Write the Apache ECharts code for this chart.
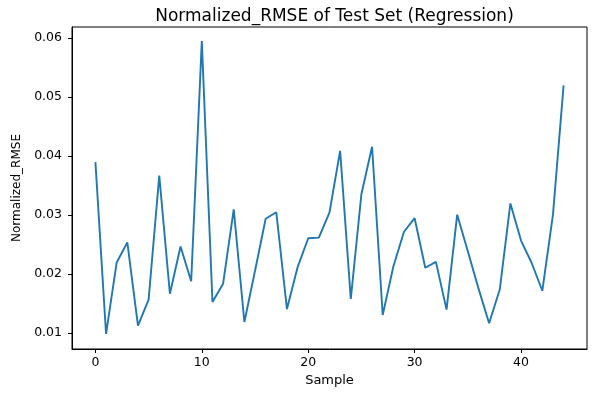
<!DOCTYPE html>
<html>
<head>
<meta charset="utf-8">
<script src="https://cdn.jsdelivr.net/npm/echarts@6/dist/echarts.min.js"></script>
<style>
html, body { margin: 0; padding: 0; background: #fff; }
#main { width: 598px; height: 393px; }
</style>
</head>
<body>
<div id="main"></div>
<script>
// sample index 0..44
var samples = [0, 1, 2, 3, 4, 5, 6, 7, 8, 9, 10, 11, 12, 13, 14, 15, 16, 17, 18, 19, 20, 21,
    22, 23, 24, 25, 26, 27, 28, 29, 30, 31, 32, 33, 34, 35, 36, 37, 38, 39, 40, 41, 42, 43, 44];
var rmse = [0.0390, 0.0099, 0.0220, 0.0254, 0.0113, 0.0157, 0.0367, 0.0167, 0.0247, 0.0188,
    0.0595, 0.0153, 0.0184, 0.0310, 0.0119, 0.0206, 0.0294, 0.0305, 0.0141, 0.0212,
    0.0261, 0.0262, 0.0305, 0.0409, 0.0158, 0.0336, 0.0416, 0.0131, 0.0213, 0.0272,
    0.0295, 0.0211, 0.0221, 0.0140, 0.0301, 0.0239, 0.0176, 0.0117, 0.0174, 0.0320,
    0.0257, 0.0219, 0.0172, 0.0301, 0.0520];
var xTicks = [0, 10, 20, 30, 40];
var yTicks = [0.01, 0.02, 0.03, 0.04, 0.05, 0.06];

var font = 'DejaVu Sans';
var myChart = echarts.init(document.getElementById('main'));
var option = {
    animation: false,
    backgroundColor: '#fff',
    title: {
        text: 'Normalized_RMSE of Test Set (Regression)',
        left: 329.5,
        textAlign: 'center',
        top: 3,
        textStyle: { fontFamily: font, fontSize: 17, fontWeight: 'normal', color: '#000' }
    },
    grid: {
        left: 72, right: 11, top: 27, bottom: 44,
        show: true, borderColor: '#000', borderWidth: 1
    },
    xAxis: {
        type: 'value',
        min: -2.2,
        max: 46.2,
        name: 'Sample',
        nameLocation: 'middle',
        nameGap: 24,
        nameTextStyle: { fontFamily: font, fontSize: 13, color: '#000' },
        axisLine: { onZero: false, lineStyle: { color: '#000', width: 1 } },
        axisTick: { show: true, length: 4, customValues: xTicks, lineStyle: { color: '#000' } },
        axisLabel: { customValues: xTicks, fontFamily: font, fontSize: 12.5, color: '#000', margin: 7 },
        splitLine: { show: false }
    },
    yAxis: {
        type: 'value',
        min: 0.00733,
        max: 0.0619,
        name: 'Normalized_RMSE',
        nameLocation: 'middle',
        nameGap: 45,
        nameTextStyle: { fontFamily: font, fontSize: 12, color: '#000' },
        axisLine: { show: true, onZero: false, lineStyle: { color: '#000', width: 1 } },
        axisTick: { show: true, length: 4, customValues: yTicks, lineStyle: { color: '#000' } },
        axisLabel: {
            customValues: yTicks, fontFamily: font, fontSize: 12.5, color: '#000', margin: 10,
            formatter: function (v) { return v.toFixed(2); }
        },
        splitLine: { show: false }
    },
    series: [{
        type: 'line',
        data: samples.map(function (s, i) { return [s, rmse[i]]; }),
        showSymbol: false,
        lineStyle: { color: '#1f77b4', width: 1.9 },
        itemStyle: { color: '#1f77b4' }
    }]
};
myChart.setOption(option);
</script>
</body>
</html>
